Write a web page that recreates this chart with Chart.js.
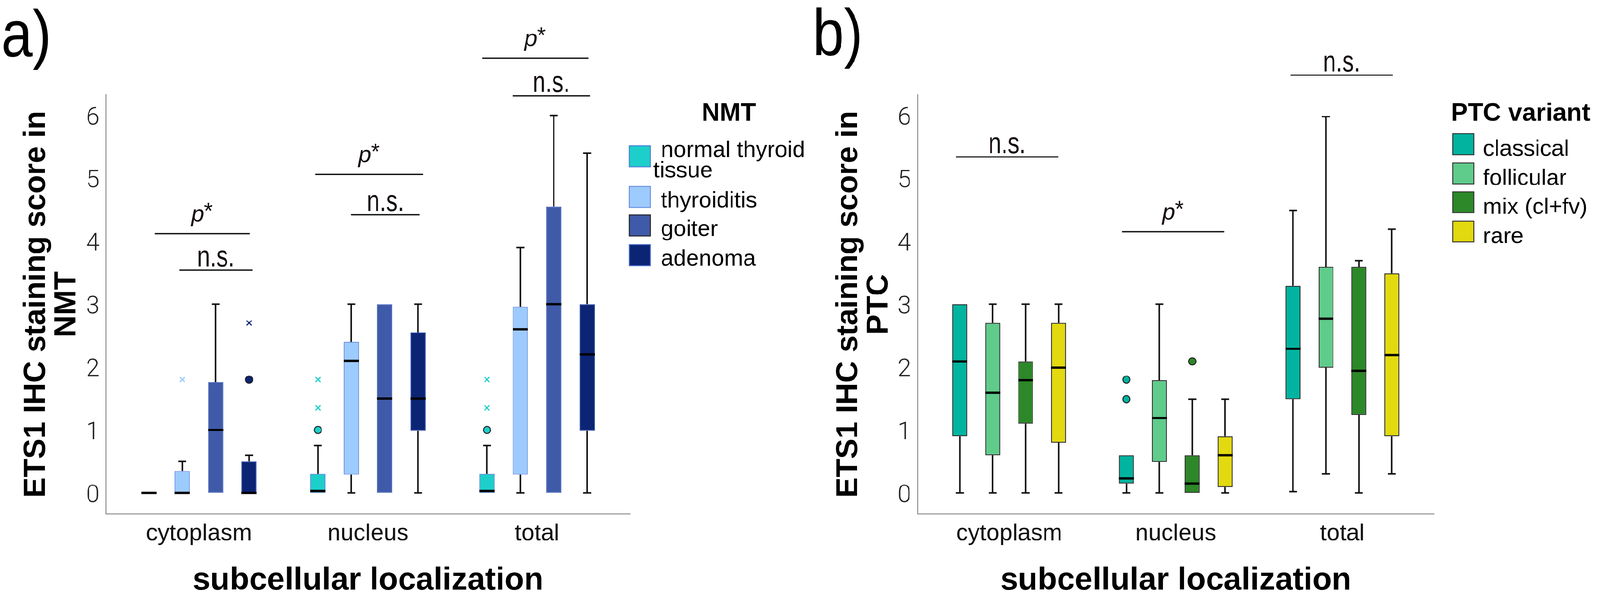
<!DOCTYPE html>
<html>
<head>
<meta charset="UTF-8">
<title>ETS1 IHC staining score by subcellular localization</title>
<script src="https://cdn.jsdelivr.net/npm/chart.js"></script>
<style>
  html, body { margin: 0; padding: 0; background: #fff; overflow: hidden; }
  #wrap { position: relative; width: 4213px; height: 1574px; overflow: hidden; background: #fff; transform-origin: 0 0; }
  canvas { position: absolute; top: 0; }
</style>
</head>
<body>
<div id="wrap">
  <canvas id="panelA" width="2130" height="1574" style="left:0"></canvas>
  <canvas id="panelB" width="2083" height="1574" style="left:2130px"></canvas>
</div>
<script>
const localizations = ['cytoplasm', 'nucleus', 'total'];
const yTicks = [0, 1, 2, 3, 4, 5, 6];

// a) non-malignant thyroid (rows = group, columns = localization)
const nmtGroups = ['normal thyroid tissue', 'thyroiditis', 'goiter', 'adenoma'];
const nmtMin    = [[0, 0, 0], [0, 0, 0], [0, 0, 0], [0, 0, 0]];
const nmtQ1     = [[0, 0, 0], [0, 0.29, 0.29], [0, 0, 0], [0, 0.99, 0.99]];
const nmtMedian = [[0, 0.03, 0.03], [0, 2.10, 2.60], [1.0, 1.5, 3.0], [0, 1.5, 2.2]];
const nmtQ3     = [[0, 0.30, 0.30], [0.35, 2.40, 2.96], [1.76, 3.0, 4.55], [0.50, 2.55, 3.0]];
const nmtMax    = [[0, 0.75, 0.75], [0.50, 3.0, 3.9], [3.0, 3.0, 6.0], [0.60, 3.0, 5.4]];
const nmtOutliers = [[[], [1.0], [1.0]], [[], [], []], [[], [], []], [[1.8], [], []]];
const nmtExtremes = [[[], [1.35, 1.8], [1.35, 1.8]], [[1.8], [], []], [[], [], []], [[2.7], [], []]];
const nmtSigLoc   = [0, 0, 1, 1, 2, 2];
const nmtSigSpan  = [[-0.262, 0.300], [-0.116, 0.316], [-0.312, 0.326], [-0.100, 0.306], [-0.325, 0.304], [-0.145, 0.313]];
const nmtSigLevel = [4.12, 3.54, 5.06, 4.42, 6.91, 6.31];
const nmtSigText  = ['p*', 'n.s.', 'p*', 'n.s.', 'p*', 'n.s.'];

// b) PTC variants
const ptcGroups = ['classical', 'follicular', 'mix (cl+fv)', 'rare'];
const ptcMin    = [[0, 0, 0.02], [0, 0, 0.30], [0, 0, 0], [0, 0, 0.30]];
const ptcQ1     = [[0.90, 0.15, 1.49], [0.60, 0.49, 1.99], [1.10, 0, 1.24], [0.80, 0.09, 0.90]];
const ptcMedian = [[2.09, 0.23, 2.29], [1.59, 1.19, 2.77], [1.79, 0.15, 1.94], [1.99, 0.60, 2.19]];
const ptcQ3     = [[3.0, 0.60, 3.29], [2.70, 1.79, 3.59], [2.09, 0.60, 3.59], [2.70, 0.90, 3.49]];
const ptcMax    = [[3.0, 0.60, 4.49], [3.0, 3.0, 5.98], [3.0, 1.49, 3.69], [3.0, 1.49, 4.19]];
const ptcOutliers = [[[], [1.49, 1.80], []], [[], [], []], [[], [2.09], []], [[], [], []]];
const ptcExtremes = [[[], [], []], [[], [], []], [[], [], []], [[], [], []]];
const ptcSigLoc   = [0, 1, 2];
const ptcSigSpan  = [[-0.319, 0.294], [-0.323, 0.292], [-0.312, 0.303]];
const ptcSigLevel = [5.34, 4.15, 6.64];
const ptcSigText  = ['n.s.', 'p*', 'n.s.'];

// fit the 4213x1574 figure into whatever viewport we get
const wrap = document.getElementById('wrap');
const fit = Math.min(window.innerWidth / 4213, window.innerHeight / 1574) || 1;
wrap.style.transform = 'scale(' + fit + ')';

const FONT = '"Liberation Sans", Arial, sans-serif';
Chart.defaults.font.family = FONT;
Chart.defaults.color = '#111';

function makeDatasets(groups, min, q1, median, q3, max, outl, extr, style) {
  return groups.map((g, i) => ({
    label: g,
    data: localizations.map((_, j) => ({ x: j, y: [q1[i][j], q3[i][j]] })),
    backgroundColor: style.fill[i],
    borderColor: style.border[i],
    borderWidth: style.borderWidth,
    borderSkipped: false,
    categoryPercentage: 0.79,
    barPercentage: 0.455,
    stats: { min: min[i], median: median[i], max: max[i], outliers: outl[i], extremes: extr[i] },
    legendBorder: style.legendBorder[i]
  }));
}

function makeScales(yTitle, yWidth, yTitlePad) {
  const axisBorder = { display: true, color: '#8c8c8c', width: 2.5 };
  return {
    x: {
      type: 'linear', offset: false, min: -0.55, max: 2.55,
      afterBuildTicks: s => { s.ticks = localizations.map((_, i) => ({ value: i })); },
      afterFit: s => { s.height = 221; },
      grid: { display: false, drawTicks: false },
      border: axisBorder,
      ticks: { callback: v => localizations[v], font: { size: 62 }, color: '#111', padding: 15, maxRotation: 0, autoSkip: false },
      title: { display: true, text: 'subcellular localization', color: '#000',
        font: { size: 84, weight: 'bold', lineHeight: 1 }, padding: { top: 0, bottom: 3 } }
    },
    y: {
      min: -0.335, max: 6.33,
      afterBuildTicks: s => { s.ticks = yTicks.map(v => ({ value: v })); },
      afterFit: s => { s.width = yWidth; },
      grid: { display: false, drawTicks: false },
      border: axisBorder,
      ticks: { font: { size: 64, family: 'Roboto, ' + FONT, weight: 300 }, color: '#222', padding: 17, labelOffset: 8 },
      title: { display: true, text: yTitle, color: '#000',
        font: { size: 80, weight: 'bold', lineHeight: 1 }, padding: { top: yTitlePad, bottom: 0 } }
    }
  };
}

function boxPlugin(cfg) {
  return {
    id: 'boxPlot',
    beforeDatasetsDraw(chart) {
      const ctx = chart.ctx, ys = chart.scales.y;
      ctx.save();
      ctx.strokeStyle = '#111';
      ctx.lineWidth = 4;
      chart.data.datasets.forEach((ds, i) => {
        chart.getDatasetMeta(i).data.forEach((bar, j) => {
          const [q1, q3] = ds.data[j].y;
          const lo = ds.stats.min[j], hi = ds.stats.max[j];
          const segs = [];
          if (hi > q3) segs.push([q3, hi]);
          if (lo < q1) segs.push([q1, lo]);
          segs.forEach(([a, b]) => {
            const pa = ys.getPixelForValue(a), pb = ys.getPixelForValue(b);
            ctx.beginPath();
            ctx.moveTo(bar.x, pa); ctx.lineTo(bar.x, pb);
            ctx.moveTo(bar.x - 10.5, pb); ctx.lineTo(bar.x + 10.5, pb);
            ctx.stroke();
          });
        });
      });
      ctx.restore();
    },
    afterDatasetsDraw(chart) {
      const ctx = chart.ctx, ys = chart.scales.y;
      ctx.save();
      chart.data.datasets.forEach((ds, i) => {
        chart.getDatasetMeta(i).data.forEach((bar, j) => {
          const pm = ys.getPixelForValue(ds.stats.median[j]);
          ctx.fillStyle = '#000';
          ctx.fillRect(bar.x - bar.width / 2, pm - 3, bar.width, 6);
          ds.stats.outliers[j].forEach(v => {
            ctx.beginPath();
            ctx.arc(bar.x, ys.getPixelForValue(v), 9.5, 0, 2 * Math.PI);
            ctx.fillStyle = ds.backgroundColor;
            ctx.fill();
            ctx.strokeStyle = '#222';
            ctx.lineWidth = 2.5;
            ctx.stroke();
          });
          ds.stats.extremes[j].forEach(v => {
            const py = ys.getPixelForValue(v), r = 6.5;
            ctx.beginPath();
            ctx.moveTo(bar.x - r, py - r); ctx.lineTo(bar.x + r, py + r);
            ctx.moveTo(bar.x + r, py - r); ctx.lineTo(bar.x - r, py + r);
            ctx.strokeStyle = ds.backgroundColor;
            ctx.lineWidth = 3;
            ctx.stroke();
          });
        });
      });
      ctx.restore();
    },
    afterDraw(chart) {
      const ctx = chart.ctx, xs = chart.scales.x, ys = chart.scales.y;
      ctx.save();
      // significance bars
      cfg.sigLoc.forEach((loc, k) => {
        const x1 = xs.getPixelForValue(loc + cfg.sigSpan[k][0]);
        const x2 = xs.getPixelForValue(loc + cfg.sigSpan[k][1]);
        const py = ys.getPixelForValue(cfg.sigLevel[k]);
        ctx.strokeStyle = '#111';
        ctx.lineWidth = 3.5;
        ctx.beginPath(); ctx.moveTo(x1, py); ctx.lineTo(x2, py); ctx.stroke();
        const cx = (x1 + x2) / 2;
        ctx.fillStyle = '#140c0c';
        ctx.textAlign = 'left';
        ctx.textBaseline = 'alphabetic';
        if (cfg.sigText[k] === 'p*') {
          ctx.font = 'italic 62px ' + FONT;
          const wp = ctx.measureText('p').width;
          ctx.font = '60px ' + FONT;
          const wa = ctx.measureText('*').width;
          const x0 = cx - (wp + wa) / 2;
          ctx.font = 'italic 62px ' + FONT;
          ctx.fillText('p', x0, py - 32);
          ctx.font = '60px ' + FONT;
          ctx.fillText('*', x0 + wp - 1, py - 40);
        } else {
          ctx.font = '77px ' + FONT;
          const w = ctx.measureText(cfg.sigText[k]).width * 0.79;
          ctx.fillText(cfg.sigText[k], cx - w / 2, py - 10, w);
        }
      });
      // legend
      const lg = cfg.legend;
      ctx.fillStyle = '#000';
      ctx.font = 'bold 66px ' + FONT;
      ctx.textAlign = 'center';
      ctx.textBaseline = 'middle';
      ctx.fillText(lg.title, lg.titleX, lg.titleY);
      ctx.font = '60px ' + FONT;
      ctx.textAlign = 'left';
      ctx.textBaseline = 'alphabetic';
      chart.data.datasets.forEach((ds, i) => {
        const top = lg.rowTops[i];
        ctx.fillStyle = ds.backgroundColor;
        ctx.fillRect(lg.boxX, top, 56, 55);
        ctx.strokeStyle = ds.legendBorder;
        ctx.lineWidth = 2.5;
        ctx.strokeRect(lg.boxX, top, 56, 55);
        const lines = [];
        let cur = '';
        ds.label.split(' ').forEach(w => {
          const t = cur ? cur + ' ' + w : w;
          if (cur && ctx.measureText(t).width > lg.wrap) { lines.push(cur); cur = w; } else cur = t;
        });
        lines.push(cur);
        ctx.fillStyle = '#000';
        lines.forEach((ln, k) => {
          const base = top + lg.textDrop - (lines.length - 1) * 26 + k * 54;
          ctx.fillText(ln, lg.textX + (k > 0 ? lg.indent : 0), base);
        });
      });
      // panel letter
      ctx.font = '172px ' + FONT;
      ctx.fillStyle = '#000';
      ctx.fillText(cfg.letter.text, cfg.letter.x, cfg.letter.y, 132);
      ctx.restore();
    }
  };
}

function makeChart(id, datasets, scales, padRight, plugin) {
  return new Chart(document.getElementById(id), {
    type: 'bar',
    data: { datasets },
    options: {
      responsive: false,
      animation: false,
      devicePixelRatio: 1,
      layout: { padding: { top: 249, right: padRight, left: 0, bottom: 0 } },
      plugins: { legend: { display: false }, tooltip: { enabled: false } },
      scales
    },
    plugins: [plugin]
  });
}

const nmtStyle = {
  fill: ['#1ccfca', '#9dcbfd', '#3f5aa8', '#0b2473'],
  border: ['#4d7fd8', '#6b8fe0', '#5670c0', '#3555b0'],
  legendBorder: ['#4d7fd8', '#6b8fe0', '#222222', '#4a70d0'],
  borderWidth: 2
};
const ptcStyle = {
  fill: ['#00b4a0', '#5fcc8b', '#2c8828', '#e3d90f'],
  border: ['#2a2a2a', '#2a2a2a', '#2a2a2a', '#2a2a2a'],
  legendBorder: ['#333333', '#333333', '#333333', '#333333'],
  borderWidth: 2.5
};

makeChart('panelA',
  makeDatasets(nmtGroups, nmtMin, nmtQ1, nmtMedian, nmtQ3, nmtMax, nmtOutliers, nmtExtremes, nmtStyle),
  makeScales(['ETS1 IHC staining score in', 'NMT'], 279, 56),
  471,
  boxPlugin({
    sigLoc: nmtSigLoc, sigSpan: nmtSigSpan, sigLevel: nmtSigLevel, sigText: nmtSigText,
    legend: { title: 'NMT', titleX: 1919, titleY: 300, boxX: 1657, textX: 1740, indent: -20,
      rowTops: [384, 491, 566, 644], textDrop: 55, wrap: 400 },
    letter: { text: 'a)', x: 3, y: 148 }
  }));

makeChart('panelB',
  makeDatasets(ptcGroups, ptcMin, ptcQ1, ptcMedian, ptcQ3, ptcMax, ptcOutliers, ptcExtremes, ptcStyle),
  makeScales(['ETS1 IHC staining score in', 'PTC'], 286, 65),
  437,
  boxPlugin({
    sigLoc: ptcSigLoc, sigSpan: ptcSigSpan, sigLevel: ptcSigLevel, sigText: ptcSigText,
    legend: { title: 'PTC variant', titleX: 1874, titleY: 300, boxX: 1695, textX: 1775, indent: 0,
      rowTops: [352, 429, 505, 582], textDrop: 58, wrap: 1000 },
    letter: { text: 'b)', x: 10, y: 145 }
  }));
</script>
</body>
</html>
